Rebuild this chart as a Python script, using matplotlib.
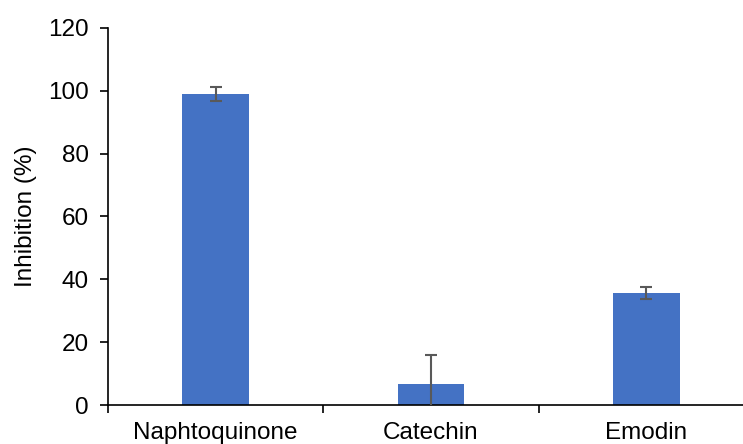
import matplotlib.pyplot as plt
import numpy as np

plt.rcParams['font.family'] = ['Liberation Sans', 'DejaVu Sans']

compuestos = ["Naphtoquinone", "Catechin", "Emodin"]
inhibicion = [99.0, 6.7, 35.6]
error = [2.2, 9.2, 1.9]

fig = plt.figure(figsize=(7.43, 4.44), dpi=100)
ax = fig.add_axes([108 / 743, (444 - 405) / 444, 646 / 743, 377 / 444])

x = np.arange(len(compuestos))
ax.bar(x, inhibicion, width=0.31, color="#4472C4", zorder=2)
ax.errorbar(x, inhibicion, yerr=error, fmt="none", ecolor="#595959",
            elinewidth=1.5, capsize=4.5, capthick=1.5, zorder=3)

ax.set_xlim(-0.5, 2.5)
ax.set_ylim(0, 120)
ax.set_yticks(range(0, 121, 20))
ax.set_xticks(x)
ax.set_xticklabels(compuestos, fontsize=17.5)
ax.set_xticks([-0.5, 0.5, 1.5, 2.5], minor=True)
ax.tick_params(axis="x", which="major", length=0, pad=12)
ax.tick_params(axis="x", which="minor", length=6, width=1.2, direction="out")
ax.tick_params(axis="y", labelsize=17.5, length=6, width=1.2, direction="out", pad=8)
ax.set_ylabel("Inhibition (%)", fontsize=17.5, labelpad=8)

ax.spines["top"].set_visible(False)
ax.spines["right"].set_visible(False)
ax.spines["left"].set_linewidth(1.2)
ax.spines["bottom"].set_linewidth(1.2)

plt.savefig("out.png", dpi=100)
